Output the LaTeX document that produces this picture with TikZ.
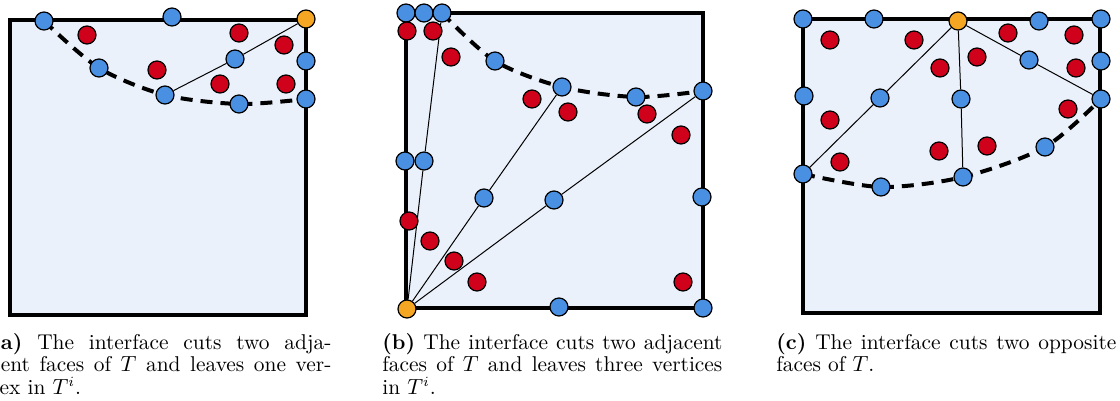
\documentclass[tikz,border=0pt]{standalone}
\usepackage{amsmath}
\usepackage{xcolor}
\usepackage{tikz}
\usetikzlibrary{calc}

\definecolor{cellfill}{HTML}{EAF1FA}
\definecolor{surfblue}{HTML}{4A90E2}
\definecolor{bulkred}{HTML}{D0021B}
\definecolor{tiporange}{HTML}{F5A623}

\pgfdeclarelayer{background}
\pgfsetlayers{background,main}

\tikzset{
  pt/.style={circle, draw=black, line width=0.6pt, minimum size=9pt, inner sep=0pt},
  surfpt/.style={pt, fill=surfblue},
  bulkpt/.style={pt, fill=bulkred},
  tippt/.style={pt, fill=tiporange},
  cell/.style={fill=cellfill, draw=black, line width=2pt},
  ray/.style={line width=0.5pt},
  iface/.style={line width=2pt, dash pattern=on 6pt off 4pt},
  capt/.style={anchor=north west, inner sep=0pt, text width=170pt, align=justify, font=\fontsize{10.7}{11.25}\selectfont}
}

\begin{document}
\begin{tikzpicture}[x=0.5pt, y=-0.5pt]
  \useasboundingbox (0,0) rectangle (1120,401);

  % Panel (a): points on the faces
  \node[surfpt] (a1) at (44,21) {};
  \node[surfpt] (a2) at (172,17) {};
  \node[tippt]  (ao) at (306,19) {};
  \node[surfpt] (a3) at (235,59) {};
  \node[surfpt] (a4) at (306,61) {};
  \node[surfpt] (a5) at (99,68) {};
  \node[surfpt] (a6) at (165,95) {};
  \node[surfpt] (a7) at (239,104) {};
  \node[surfpt] (a8) at (306,99) {};

  % Panel (a): interior points
  \node[bulkpt] (ra1) at (87,35) {};
  \node[bulkpt] (ra2) at (239,33) {};
  \node[bulkpt] (ra3) at (284,45) {};
  \node[bulkpt] (ra4) at (157,70) {};
  \node[bulkpt] (ra5) at (220,84) {};
  \node[bulkpt] (ra6) at (286,84) {};

  % Panel (b): points on the faces
  \node[surfpt] (b1) at (406,13) {};
  \node[surfpt] (b2) at (424,13) {};
  \node[surfpt] (b3) at (442,13) {};
  \node[surfpt] (b4) at (495,61) {};
  \node[surfpt] (b5) at (562,87) {};
  \node[surfpt] (b6) at (636,97) {};
  \node[surfpt] (b7) at (703,91) {};
  \node[surfpt] (b8) at (405,161) {};
  \node[surfpt] (b9) at (424,161) {};
  \node[surfpt] (b10) at (484,198) {};
  \node[surfpt] (b11) at (554,200) {};
  \node[surfpt] (b12) at (702,197) {};
  \node[surfpt] (b13) at (559,307) {};
  \node[surfpt] (b14) at (703,308) {};
  \node[tippt]  (bo) at (407,309) {};

  % Panel (b): interior points
  \node[bulkpt] (rb1) at (407,31) {};
  \node[bulkpt] (rb2) at (433,31) {};
  \node[bulkpt] (rb3) at (451,57) {};
  \node[bulkpt] (rb4) at (532,99) {};
  \node[bulkpt] (rb5) at (568,112) {};
  \node[bulkpt] (rb6) at (647,114) {};
  \node[bulkpt] (rb7) at (681,135) {};
  \node[bulkpt] (rb8) at (409,221) {};
  \node[bulkpt] (rb9) at (430,241) {};
  \node[bulkpt] (rb10) at (454,261) {};
  \node[bulkpt] (rb11) at (477,282) {};
  \node[bulkpt] (rb12) at (683,282) {};

  % Panel (c): points on the faces
  \node[surfpt] (c1) at (803,19) {};
  \node[surfpt] (c2) at (874,19) {};
  \node[tippt]  (co) at (958,21) {};
  \node[surfpt] (c3) at (1039,21) {};
  \node[surfpt] (c4) at (1101,19) {};
  \node[surfpt] (c5) at (1029,60) {};
  \node[surfpt] (c6) at (1101,61) {};
  \node[surfpt] (c7) at (804,96) {};
  \node[surfpt] (c8) at (880,98) {};
  \node[surfpt] (c9) at (961,99) {};
  \node[surfpt] (c10) at (1101,99) {};
  \node[surfpt] (c11) at (1045,147) {};
  \node[surfpt] (c12) at (803,174) {};
  \node[surfpt] (c13) at (881,187) {};
  \node[surfpt] (c14) at (963,177) {};

  % Panel (c): interior points
  \node[bulkpt] (rc1) at (830,40) {};
  \node[bulkpt] (rc2) at (914,40) {};
  \node[bulkpt] (rc3) at (1008,33) {};
  \node[bulkpt] (rc4) at (1074,35) {};
  \node[bulkpt] (rc5) at (977,57) {};
  \node[bulkpt] (rc6) at (940,68) {};
  \node[bulkpt] (rc7) at (1076,68) {};
  \node[bulkpt] (rc8) at (1068,109) {};
  \node[bulkpt] (rc9) at (830,120) {};
  \node[bulkpt] (rc10) at (987,146) {};
  \node[bulkpt] (rc11) at (939,151) {};
  \node[bulkpt] (rc12) at (840,162) {};

  \begin{pgfonlayer}{background}
    % Cells
    \draw[cell] (10,20) rectangle (306,315);
    \draw[cell] (406,13) rectangle (703,308);
    \draw[cell] (803,19) rectangle (1100,313);

    % Rays from the corner vertex
    \draw[ray] (ao) -- (a3) -- (a6);
    \draw[ray] (bo) -- (b9) -- (b3);
    \draw[ray] (bo) -- (b10) -- (b5);
    \draw[ray] (bo) -- (b11) -- (b7);
    \draw[ray] (co) -- (c8) -- (c12);
    \draw[ray] (co) -- (c9) -- (c14);
    \draw[ray] (co) -- (c5) -- (c10);

    % Interfaces
    \draw[iface] plot[smooth] coordinates {(a1.center) (a5.center) (a6.center) (a7.center) (a8.center)};
    \draw[iface] plot[smooth] coordinates {(b3.center) (b4.center) (b5.center) (b6.center) (b7.center)};
    \draw[iface] plot[smooth] coordinates {(c12.center) (c13.center) (c14.center) (c11.center) (c10.center)};
  \end{pgfonlayer}

  % Captions
  \node[capt] (capa) at (-9,333) {\textbf{(a)} The interface cuts two adja-\linebreak cent faces of $T$ and leaves one ver-\linebreak tex in $T^i$.};
  \node[capt] (capb) at (382,333) {\textbf{(b)} The interface cuts two adjacent\linebreak faces of $T$ and leaves three vertices\linebreak in $T^i$.};
  \node[capt] (capc) at (776,333) {\textbf{(c)} The interface cuts two opposite\linebreak faces of $T$.};
\end{tikzpicture}
\end{document}
